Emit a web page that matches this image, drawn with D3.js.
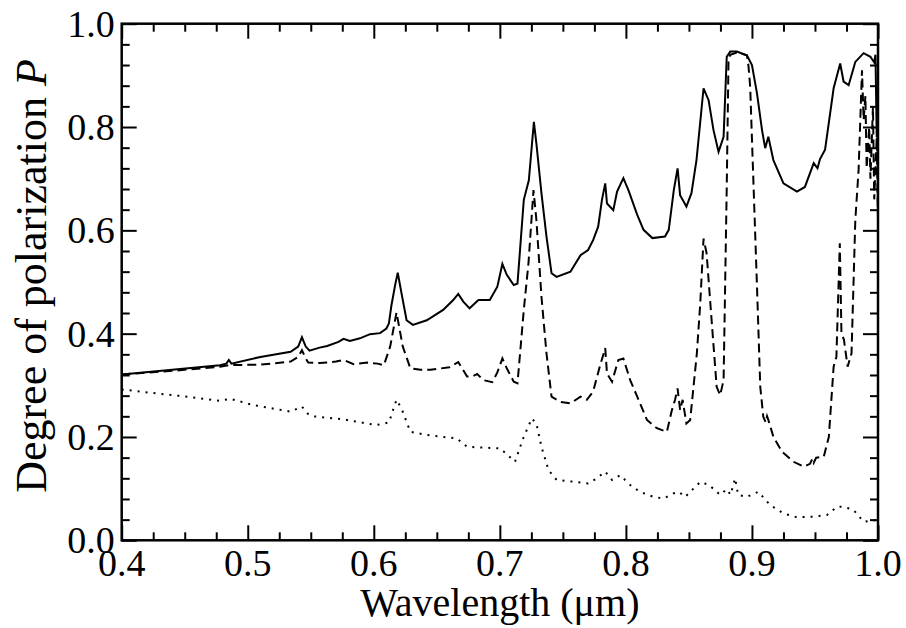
<html>
<head>
<meta charset="UTF-8">
<script src="https://d3js.org/d3.v7.min.js"></script>
<style>
  body { margin: 0; background: #fff; }
  svg { display: block; }
  text { font-family: "Liberation Serif", "DejaVu Serif", serif; fill: #000; }
</style>
</head>
<body>
<svg width="906" height="628"></svg>
<script>
// wavelength (um) and degree of polarization for each curve
var solidWl = [0.400,0.440,0.478,0.483,0.485,0.487,0.510,0.534,0.540,0.543,0.546,0.549,0.557,0.563,0.572,0.576,0.581,0.589,0.597,0.605,0.610,0.612,0.614,0.617,0.619,0.622,0.626,0.631,0.642,0.655,0.663,0.667,0.671,0.676,0.683,0.692,0.698,0.702,0.7055,0.711,0.714,0.719,0.723,0.727,0.729,0.733,0.737,0.741,0.745,0.756,0.764,0.770,0.774,0.778,0.781,0.7836,0.785,0.790,0.793,0.798,0.802,0.809,0.814,0.821,0.831,0.834,0.838,0.841,0.843,0.848,0.852,0.856,0.8616,0.8656,0.8695,0.8735,0.8775,0.880,0.8828,0.888,0.896,0.900,0.904,0.908,0.9105,0.913,0.917,0.925,0.9357,0.942,0.949,0.952,0.954,0.958,0.9648,0.970,0.9727,0.9767,0.982,0.9886,0.994,0.997,0.998,0.999,0.9995,1.0];
var solidP = [0.321,0.330,0.339,0.342,0.349,0.342,0.355,0.365,0.375,0.393,0.375,0.367,0.373,0.376,0.384,0.390,0.386,0.391,0.399,0.401,0.410,0.420,0.455,0.495,0.518,0.478,0.426,0.417,0.426,0.446,0.465,0.477,0.462,0.449,0.465,0.465,0.491,0.535,0.514,0.494,0.497,0.659,0.697,0.810,0.768,0.672,0.588,0.517,0.510,0.520,0.552,0.562,0.581,0.607,0.659,0.691,0.652,0.639,0.675,0.701,0.678,0.630,0.601,0.585,0.588,0.601,0.678,0.720,0.668,0.646,0.672,0.736,0.875,0.852,0.794,0.752,0.781,0.936,0.946,0.946,0.939,0.920,0.865,0.794,0.759,0.781,0.736,0.691,0.675,0.684,0.730,0.720,0.738,0.756,0.875,0.923,0.888,0.881,0.926,0.943,0.936,0.925,0.940,0.780,0.880,0.620];

var dashedWl = [0.400,0.440,0.478,0.485,0.510,0.534,0.540,0.543,0.546,0.548,0.557,0.570,0.576,0.584,0.595,0.603,0.608,0.613,0.618,0.623,0.629,0.637,0.645,0.660,0.667,0.674,0.679,0.682,0.687,0.694,0.698,0.702,0.7055,0.711,0.714,0.719,0.7227,0.7267,0.729,0.733,0.737,0.741,0.748,0.756,0.764,0.769,0.774,0.7796,0.7836,0.785,0.789,0.794,0.798,0.8034,0.809,0.8167,0.8246,0.8325,0.8365,0.839,0.841,0.843,0.845,0.848,0.851,0.8563,0.859,0.8616,0.864,0.868,0.872,0.8748,0.8775,0.880,0.8814,0.8828,0.888,0.896,0.8973,0.8986,0.9013,0.904,0.9066,0.909,0.911,0.912,0.913,0.917,0.9238,0.933,0.941,0.946,0.948,0.949,0.951,0.957,0.961,0.9648,0.967,0.9697,0.971,0.973,0.9759,0.979,0.982,0.9846,0.9873,0.9886,0.990,0.991,0.993,0.994,0.996,0.997,0.999,1.0];
var dashedP = [0.321,0.328,0.336,0.339,0.340,0.346,0.355,0.368,0.352,0.344,0.343,0.346,0.349,0.341,0.344,0.342,0.339,0.375,0.441,0.375,0.333,0.330,0.330,0.335,0.345,0.317,0.318,0.322,0.310,0.306,0.325,0.352,0.333,0.307,0.304,0.446,0.536,0.678,0.620,0.472,0.362,0.278,0.268,0.265,0.278,0.272,0.288,0.339,0.372,0.323,0.307,0.349,0.352,0.310,0.278,0.233,0.217,0.210,0.252,0.272,0.294,0.252,0.272,0.226,0.233,0.362,0.459,0.584,0.556,0.426,0.297,0.281,0.310,0.684,0.930,0.940,0.944,0.939,0.917,0.878,0.684,0.491,0.297,0.239,0.228,0.240,0.233,0.2005,0.1715,0.152,0.1425,0.148,0.158,0.150,0.160,0.162,0.2005,0.336,0.355,0.575,0.401,0.388,0.336,0.362,0.620,0.717,0.910,0.814,0.860,0.720,0.800,0.700,0.840,0.660,0.780,0.620];

var dottedWl = [0.400,0.425,0.452,0.478,0.486,0.504,0.534,0.543,0.548,0.552,0.576,0.602,0.612,0.618,0.622,0.629,0.642,0.666,0.674,0.700,0.703,0.712,0.719,0.7254,0.729,0.733,0.7386,0.745,0.758,0.770,0.777,0.7836,0.789,0.7955,0.8034,0.811,0.822,0.830,0.838,0.842,0.847,0.859,0.866,0.8748,0.880,0.883,0.8867,0.889,0.896,0.905,0.9145,0.925,0.9357,0.949,0.9595,0.9675,0.9727,0.9806,0.9886,0.998];
var dottedP = [0.292,0.285,0.278,0.270,0.274,0.262,0.249,0.259,0.244,0.240,0.234,0.223,0.228,0.272,0.255,0.210,0.204,0.197,0.181,0.178,0.172,0.152,0.2005,0.236,0.226,0.181,0.136,0.117,0.1135,0.110,0.120,0.133,0.117,0.126,0.107,0.094,0.084,0.081,0.091,0.094,0.084,0.113,0.107,0.088,0.099,0.088,0.120,0.088,0.084,0.094,0.068,0.052,0.0445,0.0457,0.049,0.065,0.065,0.0587,0.036,0.039];

var xTicks = [0.4,0.5,0.6,0.7,0.8,0.9,1.0];
var yTicks = [0.0,0.2,0.4,0.6,0.8,1.0];

var margin = {top: 23.7, left: 121.7, right: 28, bottom: 87.7};
var width = 906, height = 628;
var plotW = width - margin.left - margin.right;
var plotH = height - margin.top - margin.bottom;

var x = d3.scaleLinear().domain([0.4, 1.0]).range([0, plotW]);
var y = d3.scaleLinear().domain([0, 1]).range([plotH, 0]);

var svg = d3.select("svg");
var g = svg.append("g").attr("transform", "translate(" + margin.left + "," + margin.top + ")");

var line = d3.line()
  .x(function(d){ return x(d[0]); })
  .y(function(d){ return y(d[1]); });

var series = [
  {wl: solidWl, p: solidP, dash: null},
  {wl: dashedWl, p: dashedP, dash: "9,5"},
  {wl: dottedWl, p: dottedP, dash: "2,6"}
];

g.append("clipPath").attr("id", "clip")
  .append("rect").attr("width", plotW).attr("height", plotH);

series.forEach(function(s){
  var pts = s.wl.map(function(w, i){ return [w, s.p[i]]; });
  g.append("path")
    .datum(pts)
    .attr("clip-path", "url(#clip)")
    .attr("fill", "none")
    .attr("stroke", "#000")
    .attr("stroke-width", 2)
    .attr("stroke-dasharray", s.dash)
    .attr("d", line);
});

// ticks on all four sides, pointing inward
var xMinor = d3.range(0, 25).map(function(i){ return 0.4 + i * 0.025; }).filter(function(v){ return Math.abs((v * 10) - Math.round(v * 10)) > 1e-6; });
var yMinor = d3.range(0, 26).map(function(i){ return i * 0.04; }).filter(function(v){ return Math.abs((v * 5) - Math.round(v * 5)) > 1e-6; });

function axisStyle(sel){
  sel.select(".domain").remove();
  sel.selectAll("line").attr("stroke", "#000").attr("stroke-width", 2);
  sel.selectAll("text").remove();
}

g.append("g").attr("transform", "translate(0," + plotH + ")")
  .call(d3.axisTop(x).tickValues(xTicks).tickSize(15)).call(axisStyle);
g.append("g").attr("transform", "translate(0," + plotH + ")")
  .call(d3.axisTop(x).tickValues(xMinor).tickSize(8)).call(axisStyle);
g.append("g")
  .call(d3.axisBottom(x).tickValues(xTicks).tickSize(15)).call(axisStyle);
g.append("g")
  .call(d3.axisBottom(x).tickValues(xMinor).tickSize(8)).call(axisStyle);
g.append("g")
  .call(d3.axisRight(y).tickValues(yTicks).tickSize(15)).call(axisStyle);
g.append("g")
  .call(d3.axisRight(y).tickValues(yMinor).tickSize(8)).call(axisStyle);
g.append("g").attr("transform", "translate(" + plotW + ",0)")
  .call(d3.axisLeft(y).tickValues(yTicks).tickSize(15)).call(axisStyle);
g.append("g").attr("transform", "translate(" + plotW + ",0)")
  .call(d3.axisLeft(y).tickValues(yMinor).tickSize(8)).call(axisStyle);

g.append("rect")
  .attr("width", plotW).attr("height", plotH)
  .attr("fill", "none").attr("stroke", "#000").attr("stroke-width", 2.5);

// tick labels
g.selectAll(".xl").data(xTicks).enter().append("text")
  .attr("x", function(d){ return x(d); })
  .attr("y", plotH + 36)
  .attr("text-anchor", "middle")
  .style("font-size", "38px")
  .text(function(d){ return d.toFixed(1); });

g.selectAll(".yl").data(yTicks).enter().append("text")
  .attr("x", -7)
  .attr("y", function(d){ return y(d) + 13; })
  .attr("text-anchor", "end")
  .style("font-size", "38px")
  .text(function(d){ return d.toFixed(1); });

// axis titles
svg.append("text")
  .attr("x", margin.left + plotW / 2)
  .attr("y", 616)
  .attr("text-anchor", "middle")
  .style("font-size", "40px")
  .text("Wavelength (\u03bcm)");

var yt = svg.append("text")
  .attr("transform", "translate(46,276) rotate(-90)")
  .attr("text-anchor", "middle")
  .style("font-size", "44px");
yt.append("tspan").text("Degree of polarization ");
yt.append("tspan").style("font-style", "italic").text("P");
</script>
</body>
</html>
